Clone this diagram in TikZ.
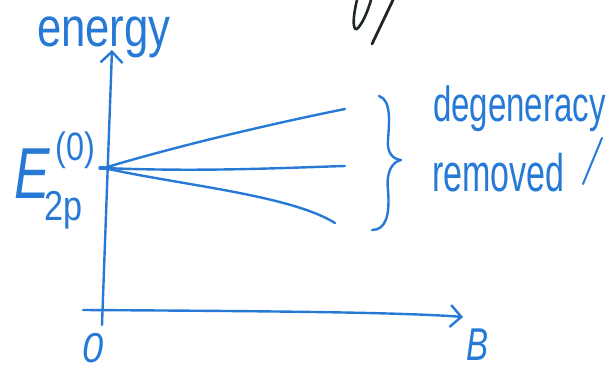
\documentclass[tikz,border=0pt]{standalone}
\usepackage{fontspec}
\setmainfont{Liberation Sans}
\usetikzlibrary{arrows.meta}
\definecolor{handblue}{RGB}{38,122,214}
\definecolor{inkblack}{RGB}{28,40,32}
\tikzset{
  pen/.style={draw=handblue, line width=2.4pt, line cap=round, line join=round},
  axisarrow/.style={pen, -{Straight Barb[length=11pt,width=22pt,line width=2.4pt]}},
  hand/.style={text=handblue, inner sep=0pt, outer sep=0pt},
}
\begin{document}
\begin{tikzpicture}[x=1pt,y=-1pt]
\useasboundingbox (0,0) rectangle (611,370);
% axes
\coordinate (vbot) at (102,325);
\coordinate (vtop) at (112,50);
\coordinate (hleft) at (83,310);
\coordinate (hright) at (463,317);
\draw[axisarrow] (vbot) -- (vtop);
\draw[axisarrow] (hleft) .. controls (250,311) and (400,312) .. (hright);
% levels
\coordinate (J) at (104,168);
\coordinate (up) at (345,109);
\coordinate (mid) at (345,166);
\coordinate (low) at (335,223);
\draw[pen] (J) .. controls (180,145) and (280,122) .. (up);
\draw[pen] (J) .. controls (200,172) and (280,168) .. (mid);
\draw[pen] (J) .. controls (180,185) and (290,195) .. (low);
\draw[pen, line width=3.4pt] (100,168) -- (112,168);
% brace
\draw[pen] (379,96) .. controls (392,100) and (389,125) .. (388,140)
  .. controls (387,152) and (392,159) .. (401,160)
  .. controls (392,162) and (386,172) .. (388,190)
  .. controls (390,215) and (386,230) .. (372,230);
% labels
\node[hand, anchor=base west, xscale=0.95, yscale=1.2] (energy) at (37,46) {\fontsize{46}{46}\selectfont energy};
\node[hand, anchor=base west, xscale=0.7, yscale=0.95] (E) at (14,198) {\fontsize{76}{76}\selectfont\itshape E};
\node[hand, anchor=base west, xscale=0.9, yscale=1.1] (Esup) at (56,160) {\fontsize{36}{36}\selectfont (0)};
\node[hand, anchor=base west, xscale=0.9, yscale=1.1] (Esub) at (44,220) {\fontsize{38}{38}\selectfont 2p};
\node[hand, anchor=base west, xscale=0.87, yscale=1.3] (deg) at (433,121) {\fontsize{38}{38}\selectfont degeneracy};
\node[hand, anchor=base west, xscale=0.74, yscale=1.15] (rem) at (432,191) {\fontsize{46}{46}\selectfont removed};
\node[hand, anchor=base, yscale=1.1] (zero) at (93,362) {\fontsize{38}{38}\selectfont\itshape 0};
\node[hand, anchor=base, xscale=0.72] (B) at (478,360) {\fontsize{46}{46}\selectfont\itshape B};
\draw[pen, line width=2pt] (602,138) -- (583,184);
% black ink stroke at top
\draw[draw=inkblack, line width=2.6pt, line cap=round] (357,0) .. controls (352,20) and (353,33) .. (358,28) .. controls (364,21) and (368,10) .. (371,0);
\draw[draw=inkblack, line width=2.8pt, line cap=round] (393,0) -- (372,44);
\end{tikzpicture}
\end{document}
